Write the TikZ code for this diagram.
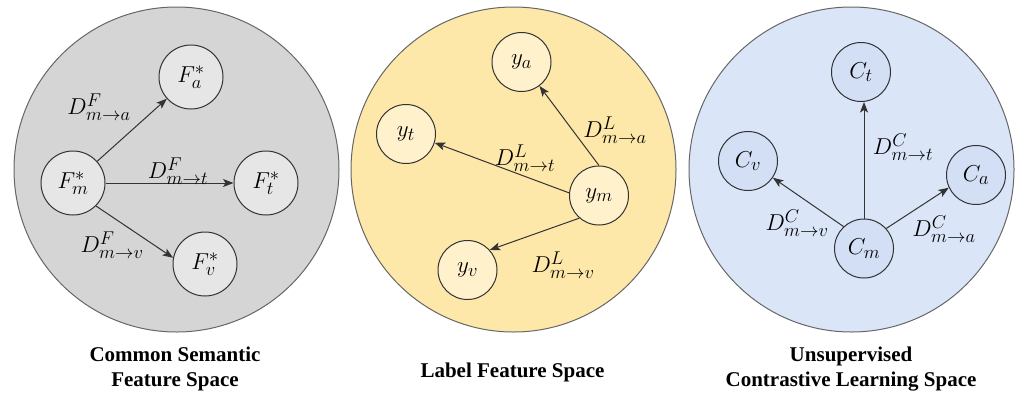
\RequirePackage{fix-cm}
\documentclass[tikz,border=0pt]{standalone}
\usepackage{fontspec}
\newfontfamily\capfont{Liberation Serif}
\usetikzlibrary{arrows.meta}
\DeclareMathSizes{23}{23}{18.5}{14}
\definecolor{grayBig}{HTML}{D5D5D5}
\definecolor{graySmall}{HTML}{E6E6E6}
\definecolor{yelBig}{HTML}{FDE8AA}
\definecolor{yelSmall}{HTML}{FFF1CC}
\definecolor{bluBig}{HTML}{DAE6F8}
\definecolor{bluSmall}{HTML}{D2DFF4}
\definecolor{bigline}{HTML}{666666}
\definecolor{smline}{HTML}{333333}
\definecolor{arrowc}{HTML}{333333}
\begin{document}
\begin{tikzpicture}[x=1pt,y=-1pt,
  space/.style={circle, draw=bigline, line width=1pt, minimum size=325pt, inner sep=0pt},
  small/.style={circle, draw=smline, line width=1pt, inner sep=0pt, font=\fontsize{23}{27}\selectfont},
  fnode/.style={small, fill=graySmall, minimum size=64pt},
  ynode/.style={small, fill=yelSmall, minimum size=59pt},
  cnode/.style={small, fill=bluSmall, minimum size=59pt},
  link/.style={draw=arrowc, line width=1pt, -{Stealth[length=10.5pt,width=8pt,inset=2.5pt]}},
  dlab/.style={font=\fontsize{23}{27}\selectfont, inner sep=0pt},
  captext/.style={font=\capfont\bfseries\fontsize{21}{24.5}\selectfont, align=center, inner sep=0pt}
]
\useasboundingbox (0,0) rectangle (1019,394);
% spaces
\node[space, fill=grayBig] (s1) at (176.5,169.5) {};
\node[space, fill=yelBig] (s2) at (513.5,169.5) {};
\node[space, fill=bluBig] (s3) at (851.5,169.5) {};
% left panel
\node[fnode] (fa) at (191,77) {$F^*_a$};
\node[fnode] (fm) at (73,183) {$F^*_m$};
\node[fnode] (ft) at (266,183) {$F^*_t$};
\node[fnode] (fv) at (205,264) {$F^*_v$};
\draw[link] (fm) -- (fa);
\draw[link] (fm) -- (ft);
\draw[link] (fm.-45) -- (fv.169);
\node[dlab] (lfa) at (99,107) {$D^F_{m\to a}$};
\node[dlab] (lft) at (178,171) {$D^F_{m\to t}$};
\node[dlab] (lfv) at (112,245) {$D^F_{m\to v}$};
% middle panel
\node[ynode] (ya) at (521.5,62) {$y_a$};
\node[ynode] (yt) at (406,134) {$y_t$};
\node[ynode] (ym) at (599,195.5) {$y_m$};
\node[ynode] (yv) at (467.5,270) {$y_v$};
\draw[link] (ym.north) -- (ya);
\draw[link] (ym.175) -- (yt.343);
\draw[link] (ym.229) -- (yv.42);
\node[dlab] (lya) at (615,130) {$D^L_{m\to a}$};
\node[dlab] (lyt) at (525,158) {$D^L_{m\to t}$};
\node[dlab] (lyv) at (563,265) {$D^L_{m\to v}$};
% right panel
\node[cnode] (ct) at (861,72) {$C_t$};
\node[cnode] (cv) at (748,161) {$C_v$};
\node[cnode] (ca) at (976,175) {$C_a$};
\node[cnode] (cm) at (864,248.5) {$C_m$};
\draw[link] (cm.north) -- (cm.north |- ct.south);
\draw[link] (cm.133) -- (cv.-34);
\draw[link] (cm.42) -- (ca.205);
\node[dlab] (lct) at (903,147) {$D^C_{m\to t}$};
\node[dlab] (lcv) at (797,223) {$D^C_{m\to v}$};
\node[dlab] (lca) at (944,229) {$D^C_{m\to a}$};
% captions
\node[captext] (c1) at (175,369) {Common Semantic\\Feature Space};
\node[captext, anchor=base] (c2) at (512.5,377) {Label Feature Space};
\node[captext] (c3) at (851,369) {Unsupervised\\Contrastive Learning Space};
\end{tikzpicture}
\end{document}
